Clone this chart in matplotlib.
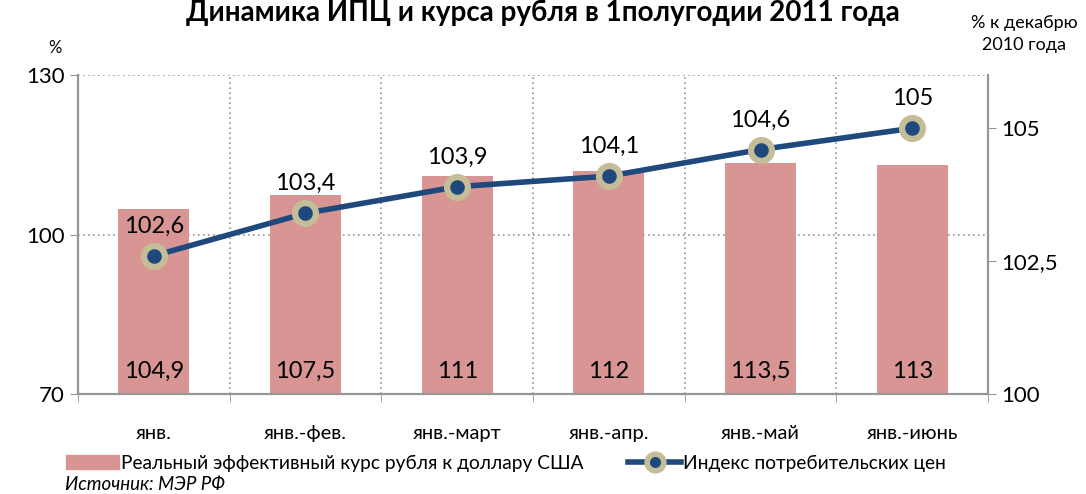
import matplotlib
matplotlib.use("Agg")
import matplotlib.pyplot as plt
from matplotlib.lines import Line2D
from matplotlib.patches import Patch

plt.rcParams['font.family'] = ['Lato', 'DejaVu Sans']

# data
categories = ["янв.", "янв.-фев.", "янв.-март", "янв.-апр.", "янв.-май", "янв.-июнь"]
reer = [104.9, 107.5, 111, 112, 113.5, 113]
cpi = [102.6, 103.4, 103.9, 104.1, 104.6, 105]

bar_color = "#D99594"
line_color = "#1F497D"
marker_edge = "#C4BD97"
grid_color = "#969696"

def fmt(v):
    s = ("%g" % v).replace(".", ",")
    return s

fig = plt.figure(figsize=(10.86, 4.94), dpi=100)
ax = fig.add_axes([0.0718, 0.2024, 0.838, 0.6456])
ax2 = ax.twinx()

x = list(range(len(categories)))
ax.bar(x, reer, width=0.47, color=bar_color, zorder=2)
ax.set_ylim(70, 130)
ax.set_yticks([70, 100, 130])
ax.set_xlim(-0.5, len(categories) - 0.5)
ax.set_xticks(x)
ax.set_xticklabels(categories, fontsize=14.5)
ax.tick_params(axis='x', length=0, pad=22)
# category boundary ticks
ax.set_xticks([i - 0.5 for i in range(len(categories) + 1)], minor=True)
ax.tick_params(axis='x', which='minor', length=6, color=grid_color)
ax.tick_params(axis='y', length=6, color=grid_color, labelsize=16)
ax.grid(axis='y', which='major', linestyle=(0, (1, 2)), color=grid_color, lw=1.2, zorder=0)
ax.grid(axis='x', which='minor', linestyle=(0, (1, 2)), color=grid_color, lw=1.2, zorder=0)

for xi, v in zip(x, reer):
    ax.text(xi, 72.3, fmt(v), ha='center', va='bottom', fontsize=17, zorder=5)

ax2.plot(x, cpi, color=line_color, lw=4, marker='o', markersize=15,
         markerfacecolor=line_color, markeredgecolor=marker_edge, markeredgewidth=4.5, zorder=4)
ax2.set_ylim(100, 106)
ax2.set_yticks([100, 102.5, 105])
ax2.set_yticklabels([fmt(t) for t in [100, 102.5, 105]])
ax2.tick_params(axis='y', length=6, color=grid_color, labelsize=16)
for xi, v in zip(x, cpi):
    ax2.text(xi, v + 0.36, fmt(v), ha='center', va='bottom', fontsize=17, zorder=5)

for a in (ax, ax2):
    a.spines['top'].set_visible(False)
    for s in ('left', 'right', 'bottom'):
        a.spines[s].set_color(grid_color)
        a.spines[s].set_linewidth(1.5)

fig.text(0.5, 1.0, "Динамика ИПЦ и курса рубля в 1полугодии 2011 года",
         ha='center', va='top', fontsize=20, fontweight='bold')
fig.text(55 / 1086, 1 - 48 / 494, "%", ha='center', va='center', fontsize=12)
fig.text(1024 / 1086, 1 - 34 / 494, "% к декабрю\n2010 года", ha='center', va='center',
         fontsize=13, linespacing=1.4)

handles = [Patch(color=bar_color),
           Line2D([], [], color=line_color, lw=4, marker='o', markersize=12,
                  markerfacecolor=line_color, markeredgecolor=marker_edge, markeredgewidth=4)]
labels = ["Реальный эффективный курс рубля к доллару США", "Индекс потребительских цен"]
fig.legend(handles, labels, loc='center left', bbox_to_anchor=(56 / 1086, 1 - 463 / 494),
           ncol=2, frameon=False, fontsize=13.8, handlelength=2.8, handletextpad=0.1,
           columnspacing=2.3, borderpad=0)
fig.text(65 / 1086, 1 - 484 / 494, "Источник: МЭР РФ", ha='left', va='center',
         fontsize=13.5, style='italic')

fig.savefig("out.png", dpi=100)
